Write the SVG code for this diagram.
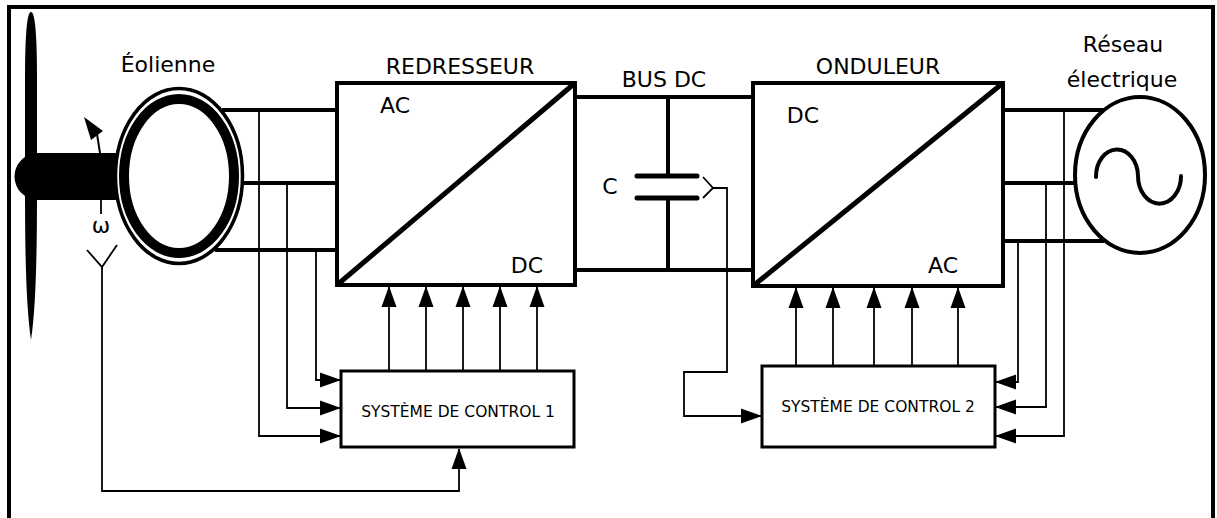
<svg xmlns="http://www.w3.org/2000/svg" width="1217" height="518" viewBox="0 0 1217 518">
<defs>
<marker id="ah" markerUnits="userSpaceOnUse" markerWidth="22" markerHeight="16" refX="20" refY="8" orient="auto">
<path d="M0,0.5 L21,8 L0,15.5 Z" fill="#000"/>
</marker>
<style>
.t{font-family:"DejaVu Sans","Liberation Sans",sans-serif;font-size:22px;fill:#000;text-anchor:middle}
.s{font-family:"DejaVu Sans","Liberation Sans",sans-serif;font-size:15.5px;fill:#000;text-anchor:middle}
.thick{stroke:#000;stroke-width:4;fill:none}
.thin{stroke:#000;stroke-width:1.8;fill:none}
.arr{stroke:#000;stroke-width:1.8;fill:none;marker-end:url(#ah)}
.box{fill:#fff;stroke:#000;stroke-width:4}
.cbox{fill:#fff;stroke:#000;stroke-width:3}
</style>
</defs>
<rect width="1217" height="518" fill="#fff"/>
<path d="M9,530 V7 H1213 V530" fill="none" stroke="#000" stroke-width="4"/>

<g id="connectors">
<!-- generator to rectifier -->
<path class="thick" d="M222,110 H337 M244,183 H337 M215,250 H337"/>
<!-- DC bus -->
<path class="thick" d="M575,97 H753 M575,270 H753"/>
<path class="thick" d="M668,97 V176 M668,198 V270"/>
<!-- inverter to grid -->
<path class="thick" d="M1003,110 H1104 M1003,183 H1075 M1003,241 H1104"/>
<!-- taps to control 1 -->
<path class="arr" d="M316,250 V380 H340"/>
<path class="arr" d="M287,183 V408 H340"/>
<path class="arr" d="M259,110 V436 H340"/>
<!-- taps to control 2 -->
<path class="arr" d="M1018,241 V382 H996"/>
<path class="arr" d="M1046,183 V407 H996"/>
<path class="arr" d="M1064,110 V436 H996"/>
<!-- control 1 to rectifier -->
<path class="arr" d="M389,371 V287"/>
<path class="arr" d="M426,371 V287"/>
<path class="arr" d="M463,371 V287"/>
<path class="arr" d="M500,371 V287"/>
<path class="arr" d="M537,371 V287"/>
<!-- control 2 to inverter -->
<path class="arr" d="M796,366 V288"/>
<path class="arr" d="M833,366 V288"/>
<path class="arr" d="M874,366 V288"/>
<path class="arr" d="M912,366 V288"/>
<path class="arr" d="M958,366 V288"/>
<!-- capacitor voltage sensor -->
<path class="thin" d="M703,177 L713,188 L703,198"/>
<path class="arr" d="M713,188 H727 V372 H684 V416 H761"/>
<!-- speed sensor -->
<path class="thin" d="M87,250 L102,267 L117,245"/>
<path class="arr" d="M102,267 V491 H459 V449"/>
<!-- omega arrow -->
<path class="thin" d="M101,200 V214"/>
</g>

<g id="eolienne">
<path d="M128,153 H38 A23.5,23.5 0 0 0 38,200 H128 Z" fill="#000"/>
<path d="M31,12 C35.5,12 37,40 37,80 L37,176 C37,230 37,300 31,340 C25,300 25,230 25,176 L25,80 C25,40 26.5,12 31,12 Z" fill="#000"/>
<path d="M100,153 L97,134" stroke="#000" stroke-width="2" fill="none"/>
<path d="M84,117 L103,131 L91,140 Z" fill="#000"/>
<text class="t" x="101" y="233">ω</text>
<text class="t" x="168" y="72">Éolienne</text>
</g>

<g id="generateur">
<ellipse cx="179" cy="176" rx="63.5" ry="87.5" fill="#fff" stroke="#000" stroke-width="3.5"/>
<ellipse cx="179" cy="176" rx="55" ry="77" fill="#fff" stroke="#000" stroke-width="10"/>
</g>

<g id="redresseur">
<rect class="box" x="337" y="83" width="238" height="202"/>
<path d="M337,285 L575,83" stroke="#000" stroke-width="5"/>
<text class="t" x="395" y="113">AC</text>
<text class="t" x="527" y="273">DC</text>
<text class="t" x="460" y="74">REDRESSEUR</text>
</g>

<g id="bus-dc">
<path d="M637,176 H697 M637,198 H697" stroke="#000" stroke-width="5" stroke-linecap="round"/>
<text class="t" x="610" y="194">C</text>
<text class="t" x="664" y="87">BUS DC</text>
</g>

<g id="onduleur">
<rect class="box" x="753" y="83" width="250" height="203"/>
<path d="M753,286 L1003,83" stroke="#000" stroke-width="5"/>
<text class="t" x="803" y="123">DC</text>
<text class="t" x="943" y="273">AC</text>
<text class="t" x="878" y="74">ONDULEUR</text>
</g>

<g id="reseau">
<ellipse cx="1140" cy="175" rx="65" ry="78" fill="#fff" stroke="#000" stroke-width="4"/>
<path d="M1096,177 A21,27 0 0 1 1138,176 A21,27 0 0 0 1181,176" fill="none" stroke="#000" stroke-width="4" stroke-linecap="round"/>
<text class="t" x="1123" y="52">Réseau</text>
<text class="t" x="1122" y="87">électrique</text>
</g>

<g id="controle1">
<rect class="cbox" x="341" y="371" width="233" height="76"/>
<text class="s" x="458" y="417">SYSTÈME DE CONTROL 1</text>
</g>

<g id="controle2">
<rect class="cbox" x="762" y="366" width="233" height="81"/>
<text class="s" x="878" y="412">SYSTÈME DE CONTROL 2</text>
</g>
</svg>
